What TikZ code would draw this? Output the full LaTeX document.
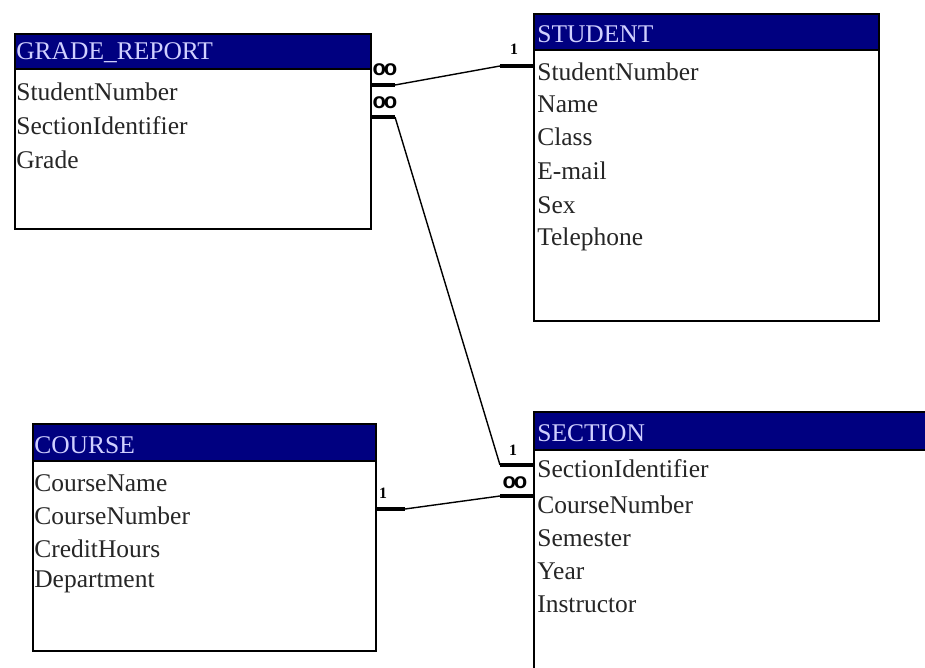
\documentclass[tikz,border=0pt]{standalone}
\usepackage{fontspec}
\setmainfont{Liberation Serif}
\newfontfamily\cardfont{Liberation Sans}
\definecolor{hdrblue}{HTML}{000080}
\definecolor{hdrtext}{HTML}{D0D0FF}
\tikzset{
  tbl/.style={draw, line width=1pt, fill=white, anchor=north west, inner sep=0pt},
  hdr/.style={fill=hdrblue, draw=black, line width=1pt, anchor=north west, inner sep=0pt},
  hdrlabel/.style={anchor=west, inner sep=0pt, text=hdrtext, font=\fontsize{14.5}{17}\selectfont},
  field/.style={anchor=west, inner sep=0pt, text=black!85, font=\fontsize{14.5}{17}\selectfont},
  stub/.style={line width=2.6pt},
  link/.style={line width=0.8pt},
  card/.style={inner sep=0pt, font=\bfseries\fontsize{9}{10}\selectfont},
  many/.style={inner sep=0pt, font=\cardfont\bfseries\fontsize{12.5}{13}\selectfont}
}
\newcommand{\manysym}{o\kern-1.3pt o}
\begin{document}
\begin{tikzpicture}[x=0.02cm, y=-0.02cm]
\clip (0,0) rectangle (925,668);
\fill[white] (0,0) rectangle (925,668);

% GRADE_REPORT
\node[tbl, minimum width=7.12cm, minimum height=3.9cm] (gr) at (14,33) {};
\node[hdr, minimum width=7.12cm, minimum height=0.7cm] (grh) at (14,33) {};
\node[hdrlabel] (grt) at (16,53) {GRADE\_REPORT};
\node[field] (gr1) at (16,92) {StudentNumber};
\node[field] (gr2) at (16,126) {SectionIdentifier};
\node[field] (gr3) at (16,160) {Grade};

% STUDENT
\node[tbl, minimum width=6.9cm, minimum height=6.14cm] (st) at (533,13) {};
\node[hdr, minimum width=6.9cm, minimum height=0.72cm] (sth) at (533,13) {};
\node[hdrlabel] (stt) at (537,34) {STUDENT};
\node[field] (st1) at (537,72) {StudentNumber};
\node[field] (st2) at (537,104) {Name};
\node[field] (st3) at (537,137) {Class};
\node[field] (st4) at (537,171) {E-mail};
\node[field] (st5) at (537,205) {Sex};
\node[field] (st6) at (537,239) {Telephone};

% COURSE
\node[tbl, minimum width=6.86cm, minimum height=4.54cm] (co) at (32,423) {};
\node[hdr, minimum width=6.86cm, minimum height=0.74cm] (coh) at (32,423) {};
\node[hdrlabel] (cot) at (34,445) {COURSE};
\node[field] (co1) at (34,483) {CourseName};
\node[field] (co2) at (34,516) {CourseNumber};
\node[field] (co3) at (34,549) {CreditHours};
\node[field] (co4) at (34,582) {Department};

% SECTION
\node[tbl, minimum width=8cm, minimum height=6cm] (se) at (533,411) {};
\node[hdr, minimum width=8cm, minimum height=0.76cm] (seh) at (533,411) {};
\node[hdrlabel] (set) at (537,433) {SECTION};
\node[field] (se1) at (537,469) {SectionIdentifier};
\node[field] (se2) at (537,505) {CourseNumber};
\node[field] (se3) at (537,538) {Semester};
\node[field] (se4) at (537,571) {Year};
\node[field] (se5) at (537,604) {Instructor};

% relationships
\coordinate (a1) at (395,85);
\coordinate (a2) at (500,66);
\draw[stub] (gr.east |- a1) -- (a1);
\draw[link] (a1) -- (a2);
\draw[stub] (a2) -- (st.west |- a2);
\node[many] (a1m) at (385,70) {\manysym};
\node[card] (a2m) at (514,49) {1};

\coordinate (b1) at (395,117);
\coordinate (b2) at (500,465);
\draw[stub] (gr.east |- b1) -- (b1);
\draw[link] (b1) -- (b2);
\draw[stub] (b2) -- (se.west |- b2);
\node[many] (b1m) at (385,103) {\manysym};
\node[card] (b2m) at (513,450) {1};

\coordinate (c1) at (405,509);
\coordinate (c2) at (500,496);
\draw[stub] (co.east |- c1) -- (c1);
\draw[link] (c1) -- (c2);
\draw[stub] (c2) -- (se.west |- c2);
\node[card] (c1m) at (383,493) {1};
\node[many] (c2m) at (515,483) {\manysym};
\end{tikzpicture}
\end{document}
